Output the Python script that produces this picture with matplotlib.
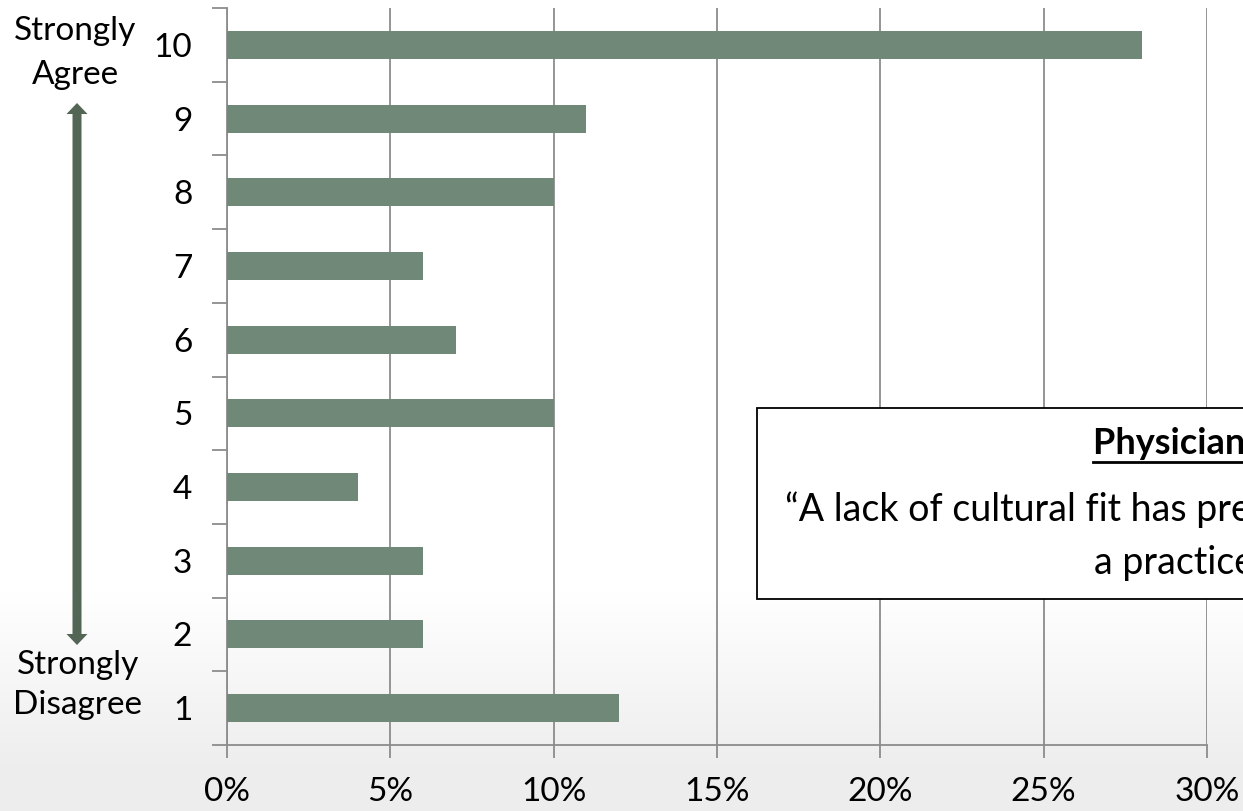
import numpy as np
import matplotlib.pyplot as plt
from matplotlib.patches import FancyArrow, Rectangle
from matplotlib.lines import Line2D

plt.rcParams['font.family'] = ['Lato', 'DejaVu Sans']

# survey responses, agreement scale 1-10, share of respondents (%)
scores = [1, 2, 3, 4, 5, 6, 7, 8, 9, 10]
shares = [12, 6, 6, 4, 10, 7, 6, 10, 11, 28]
x_ticks = [0, 5, 10, 15, 20, 25, 30]

W, H = 1243, 811
bar_color = '#6f8877'
arrow_color = '#536655'
grid_color = '#8c8c8c'

fig = plt.figure(figsize=(W / 100, H / 100), dpi=100)

# background: white fading to light grey near the bottom
bg = fig.add_axes([0, 0, 1, 1], zorder=0)
bg.set_xlim(0, W)
bg.set_ylim(H, 0)
bg.axis('off')
rows = np.linspace(0, 1, H)
shade = np.clip((rows - 0.73) / 0.22, 0, 1) * 0.07
grad = 1 - np.tile(shade[:, None], (1, 4))
bg.imshow(np.dstack([grad, grad, grad]), extent=[0, W, H, 0], aspect='auto', interpolation='bilinear')

# double-headed arrow between the scale ends
arrow_x, arrow_top, arrow_bot = 77, 103, 645
mid = (arrow_top + arrow_bot) / 2
for tip in (arrow_top, arrow_bot):
    bg.add_patch(FancyArrow(arrow_x, mid, 0, tip - mid, width=9, head_width=21, head_length=11,
                            length_includes_head=True, color=arrow_color, lw=0))
bg.text(75, 53, 'Strongly\nAgree', ha='center', va='center', fontsize=24, linespacing=1.55)
bg.text(78, 685, 'Strongly\nDisagree', ha='center', va='center', fontsize=24, linespacing=1.4)

# bar chart
ax = fig.add_axes([227 / W, 1 - 745 / H, (1207 - 227) / W, (745 - 8) / H], zorder=1)
ax.patch.set_alpha(0)
ax.barh(scores, shares, height=0.38, color=bar_color, zorder=3)

ax.set_xlim(0, 30)
ax.set_ylim(0.5, 10.5)
ax.set_xticks(x_ticks)
ax.set_xticklabels([f'{t}%' for t in x_ticks])
ax.xaxis.grid(True, color=grid_color, lw=1.3, zorder=0)
ax.set_axisbelow(True)

ax.set_yticks(np.arange(0.5, 11, 1))
ax.set_yticklabels([])
ax.set_yticks(scores, minor=True)
ax.set_yticklabels([str(s) for s in scores], minor=True)
ax.tick_params(axis='y', which='major', length=11, width=1.3, color=grid_color)
ax.tick_params(axis='y', which='minor', length=0, pad=25, labelsize=24)
ax.tick_params(axis='x', length=9, width=1.3, color=grid_color, pad=14, labelsize=24)

for side in ['top', 'right']:
    ax.spines[side].set_visible(False)
for side in ['left', 'bottom']:
    ax.spines[side].set_color(grid_color)
    ax.spines[side].set_linewidth(1.3)

# callout box with the survey statement
ov = fig.add_axes([0, 0, 1, 1], zorder=2)
ov.set_xlim(0, W)
ov.set_ylim(H, 0)
ov.axis('off')
ov.add_patch(Rectangle((757, 408), 900, 191, facecolor='white', edgecolor='black', lw=1.3))
title = ov.text(1093, 444, 'Physician Survey', ha='left', va='center', fontsize=26, fontweight='bold')
ov.text(785, 510, '\u201cA lack of cultural fit has prevented me from joining', ha='left', va='center', fontsize=27)
ov.text(1094, 563, 'a practice.\u201d', ha='left', va='center', fontsize=27)

fig.canvas.draw()
bb = title.get_window_extent().transformed(ov.transData.inverted())
ov.add_line(Line2D([bb.x0, bb.x1], [bb.y0 + 1, bb.y0 + 1], color='black', lw=2))

fig.savefig('out.png', dpi=100)
